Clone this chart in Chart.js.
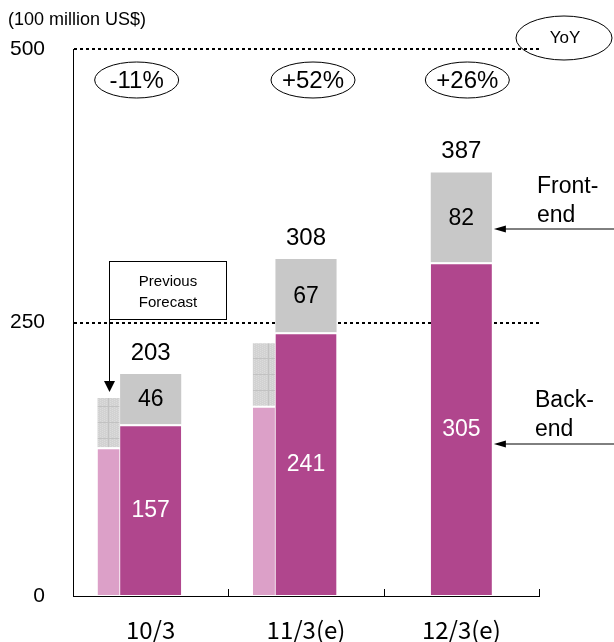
<!DOCTYPE html>
<html>
<head>
<meta charset="utf-8">
<script src="https://cdn.jsdelivr.net/npm/chart.js@4"></script>
<style>
html, body { margin: 0; padding: 0; background: #fff; }
#wrap { position: relative; width: 614px; height: 642px; }
</style>
</head>
<body>
<div id="wrap"><canvas id="c" width="614" height="642"></canvas></div>
<script>
// chart values
const categories = ['10/3', '11/3(e)', '12/3(e)'];
const backEnd = [157, 241, 305];
const frontEnd = [46, 67, 82];
const prevBack = [136, 174, null];   // previous forecast (estimated)
const prevFront = [45, 57, null];
const totals = [203, 308, 387];
const yoy = ['-11%', '+52%', '+26%'];
const yTicks = [0, 250, 500];

const MAGENTA = '#B0468D';
const PINK = '#DCA0C8';
const GRAY = '#C8C8C8';
const SANS = '"Liberation Sans", Arial, sans-serif';

// hatched grey for the previous forecast front-end part
function gridPattern() {
    const t = document.createElement('canvas');
    t.width = 16; t.height = 16;
    const g = t.getContext('2d');
    g.fillStyle = '#D2D2D2';
    g.fillRect(0, 0, 16, 16);
    g.fillStyle = '#DCDCDC';
    for (let i = 0; i < 16; i += 2) for (let j = (i / 2) % 2; j < 16; j += 2) g.fillRect(i, j, 1, 1);
    g.fillStyle = '#C2C2C2';
    g.fillRect(12, 0, 1, 16);
    g.fillRect(0, 6, 16, 1);
    return g.createPattern(t, 'repeat');
}

function arrowLeft(ctx, x1, x2, y) {
    ctx.beginPath(); ctx.moveTo(x1, y); ctx.lineTo(x2 + 10, y); ctx.stroke();
    ctx.beginPath(); ctx.moveTo(x2, y); ctx.lineTo(x2 + 12, y - 3.5); ctx.lineTo(x2 + 12, y + 3.5); ctx.closePath(); ctx.fill();
}

const overlay = {
    id: 'overlay',
    afterDatasetsDraw(chart) {
        const ctx = chart.ctx;
        const xs = chart.scales.x;
        const back = chart.getDatasetMeta(2).data;
        const front = chart.getDatasetMeta(3).data;
        ctx.save();

        // value labels in and above the bars
        ctx.textAlign = 'center';
        categories.forEach((c, i) => {
            const b = back[i], f = front[i];
            ctx.textBaseline = 'middle';
            ctx.font = '23px ' + SANS;
            ctx.fillStyle = '#fff';
            ctx.fillText(String(backEnd[i]), b.x, (b.y + b.base) / 2 + 1);
            ctx.fillStyle = '#000';
            ctx.fillText(String(frontEnd[i]), f.x, (f.y + f.base) / 2 + 1);
            ctx.textBaseline = 'bottom';
            ctx.font = '24px ' + SANS;
            ctx.fillText(String(totals[i]), f.x, f.y - 9);
        });

        // upward tick marks on the category axis
        ctx.strokeStyle = '#000';
        ctx.lineWidth = 1;
        for (let i = 0; i < categories.length; i++) {
            const px = i < categories.length - 1 ? (xs.getPixelForValue(i) + xs.getPixelForValue(i + 1)) / 2 : xs.right;
            ctx.beginPath(); ctx.moveTo(Math.round(px) + 0.5, xs.top); ctx.lineTo(Math.round(px) + 0.5, xs.top - 7); ctx.stroke();
        }

        // YoY ellipses
        const dx = [-14, 7, 6];
        ctx.textBaseline = 'middle';
        ctx.font = '24px ' + SANS;
        yoy.forEach((t, i) => {
            const cx = xs.getPixelForValue(i) + dx[i];
            ctx.beginPath(); ctx.ellipse(cx, 80, 42, 18, 0, 0, Math.PI * 2); ctx.stroke();
            ctx.fillText(t, cx, 81);
        });
        ctx.beginPath(); ctx.ellipse(564, 38, 48, 22, 0, 0, Math.PI * 2); ctx.stroke();
        ctx.font = '17px ' + SANS;
        ctx.fillText('YoY', 565, 38);

        // unit label
        ctx.textAlign = 'left';
        ctx.font = '18px ' + SANS;
        ctx.fillText('(100 million US$)', 8, 20);

        // previous forecast callout
        ctx.fillStyle = '#fff';
        ctx.fillRect(109.5, 261.5, 117, 58);
        ctx.strokeRect(109.5, 261.5, 117, 58);
        ctx.fillStyle = '#000';
        ctx.textAlign = 'center';
        ctx.font = '15px ' + SANS;
        ctx.fillText('Previous', 168, 282);
        ctx.fillText('Forecast', 168, 303);
        ctx.beginPath(); ctx.moveTo(109.5, 320); ctx.lineTo(109.5, 382); ctx.stroke();
        ctx.beginPath(); ctx.moveTo(109.5, 392); ctx.lineTo(104, 381); ctx.lineTo(115, 381); ctx.closePath(); ctx.fill();

        // front-end / back-end pointers
        ctx.textAlign = 'left';
        ctx.font = '23px ' + SANS;
        ctx.fillText('Front-', 537, 187);
        ctx.fillText('end', 537, 216);
        ctx.fillText('Back-', 535, 401);
        ctx.fillText('end', 535, 430);
        const bx = front[2].x + front[2].width / 2 + 2;
        arrowLeft(ctx, 614, bx, 229);
        arrowLeft(ctx, 614, bx, 444);
        ctx.restore();
    }
};

const hatch = gridPattern();

new Chart(document.getElementById('c'), {
    type: 'bar',
    data: {
        labels: categories,
        datasets: [
            { label: 'prev back', data: prevBack, stack: 'prev', backgroundColor: PINK, borderColor: '#fff', borderWidth: { top: 2 }, borderSkipped: 'start', barPercentage: 0.524 },
            { label: 'prev front', data: prevFront, stack: 'prev', backgroundColor: hatch, borderWidth: 0, barPercentage: 0.524 },
            { label: 'Back-end', data: backEnd, stack: 'act', backgroundColor: MAGENTA, borderColor: '#fff', borderWidth: { top: 2 }, borderSkipped: 'start', barPercentage: 1.452 },
            { label: 'Front-end', data: frontEnd, stack: 'act', backgroundColor: GRAY, borderWidth: 0, barPercentage: 1.452 },
            { label: 'pad', data: [null, null, null], stack: 'pad', backgroundColor: 'transparent', barPercentage: 0.5 }
        ]
    },
    options: {
        responsive: false,
        animation: false,
        categoryPercentage: 0.813,
        layout: { padding: { top: 49, right: 75, left: 0, bottom: 0 } },
        plugins: { legend: { display: false }, tooltip: { enabled: false } },
        scales: {
            x: {
                stacked: true,
                grid: { display: false, drawTicks: false },
                border: { display: true, color: '#000', width: 1 },
                ticks: { color: '#000', padding: 19, font: { family: '"Noto Sans CJK JP", sans-serif', size: 24 } },
                afterFit: s => { s.height = 46; }
            },
            y: {
                stacked: true,
                min: 0, max: 500,
                afterBuildTicks: s => { s.ticks = yTicks.map(v => ({ value: v })); },
                grid: {
                    drawTicks: false,
                    lineWidth: 2,
                    color: c => c.tick && c.tick.value === 0 ? 'rgba(0,0,0,0)' : '#000'
                },
                border: { display: true, color: '#000', width: 1, dash: [3, 3] },
                ticks: { color: '#000', padding: 28, font: { family: SANS, size: 21 } },
                afterFit: s => { s.width = 73; }
            }
        }
    },
    plugins: [overlay]
});
</script>
</body>
</html>
